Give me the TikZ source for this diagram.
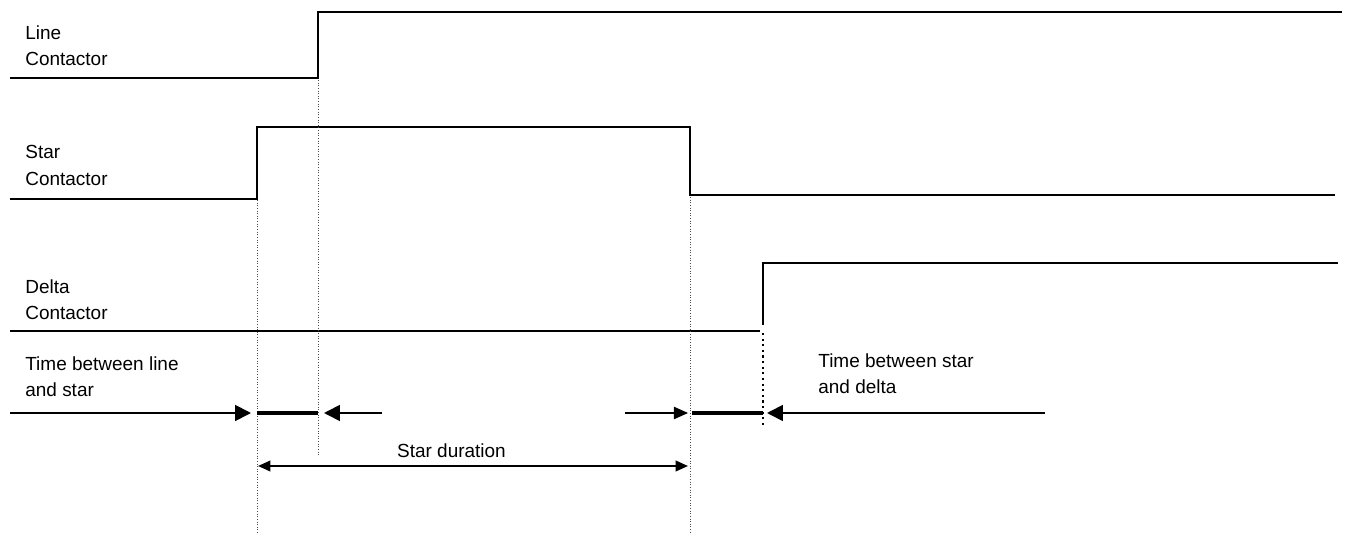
\documentclass[tikz,border=0pt]{standalone}
\usepackage{fontspec}
\setmainfont{Liberation Sans}
\usetikzlibrary{arrows.meta, positioning, calc}

\begin{document}
\begin{tikzpicture}[
    x=0.02cm, y=-0.02cm,
    signal/.style={line width=1.5pt, line join=miter},
    guide/.style={densely dotted, line width=0.5pt, color=black!70},
    gap/.style={line width=2.8pt},
    pointer/.style={-{Triangle[length=9pt, width=9pt]}, line width=1pt},
    thinpointer/.style={-{Triangle[length=8pt, width=7pt]}, line width=0.7pt},
    span/.style={{Triangle[length=7pt, width=6pt]}-{Triangle[length=7pt, width=6pt]}, line width=1.1pt},
    label/.style={anchor=north west, align=left, inner sep=0pt, font=\fontsize{10.8}{15.3}\selectfont}
]
    \useasboundingbox (0,0) rectangle (1348,533);

    % Switching instants
    \coordinate (tstar) at (257,0);
    \coordinate (tline) at (318,0);
    \coordinate (toff)  at (690,0);
    \coordinate (tdelta) at (763,0);

    % Labels
    \node[label] (linelbl)  at (25,25)  {Line\\Contactor};
    \node[label] (starlbl)  at (25,145) {Star\\Contactor};
    \node[label] (deltalbl) at (25,279) {Delta\\Contactor};
    \node[label] (gap1lbl)  at (25,356) {Time between line\\and star};
    \node[label] (gap2lbl)  at (818,353) {Time between star\\and delta};

    % Signals
    \draw[signal] (10,78) -- (tline |- 0,78) -- (tline |- 0,12) -- (1342,12);
    \draw[signal] (10,199) -- (tstar |- 0,199) -- (tstar |- 0,127) -- (toff |- 0,127) -- (toff |- 0,195) -- (1335,195);
    \draw[signal] (10,331) -- (760,331);
    \draw[signal] (tdelta |- 0,325) -- (tdelta |- 0,263) -- (1338,263);

    % Guides
    \draw[guide] (tline |- 0,80) -- (tline |- 0,455);
    \draw[guide] (tstar |- 0,200) -- (tstar |- 0,533);
    \draw[guide] (toff |- 0,197) -- (toff |- 0,533);
    \draw[dotted, line width=1.2pt] (tdelta |- 0,333) -- (tdelta |- 0,425);

    % Arrow endpoints
    \coordinate (a1s) at (10,413);
    \coordinate (a1e) at (251,413);
    \coordinate (a2s) at (382,413);
    \coordinate (a2e) at (324,413);
    \coordinate (a3s) at (625,413);
    \coordinate (a3e) at (688,413);
    \coordinate (a4s) at (1045,413);
    \coordinate (a4e) at (767,413);

    % Intervals
    \draw[gap] (tstar |- a1s) -- (tline |- a1s);
    \draw[gap] (692,413) -- (tdelta |- a1s);
    \draw[pointer] (a1s) -- (a1e);
    \draw[pointer] (a2s) -- (a2e);
    \draw[thinpointer] (a3s) -- (a3e);
    \draw[pointer] (a4s) -- (a4e);

    % Star duration
    \coordinate (dstart) at (258,466);
    \coordinate (dend) at (688,466);
    \draw[span] (dstart) -- (dend);
    \node[font=\fontsize{10.8}{15.3}\selectfont, above=1pt of $(dstart)!0.45!(dend)$] (durlbl) {Star duration};
\end{tikzpicture}
\end{document}
